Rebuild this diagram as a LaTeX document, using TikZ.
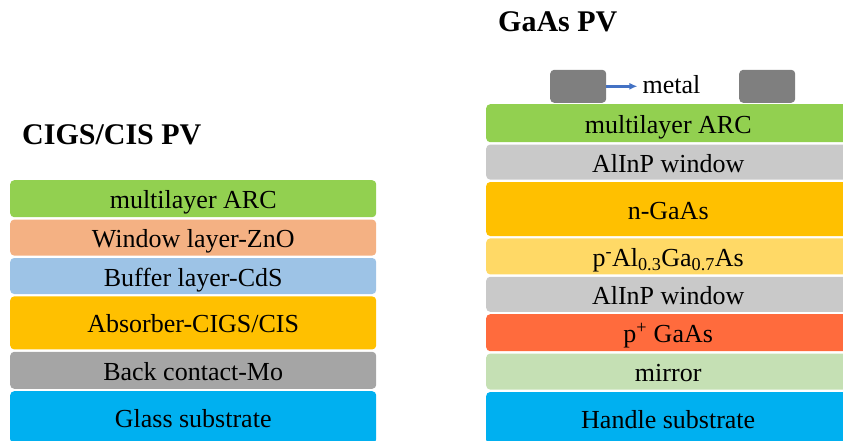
\documentclass[tikz,border=0pt]{standalone}
\usepackage{fontspec}
\setmainfont{Liberation Serif}
\usepackage{tikz}
\usetikzlibrary{positioning}
\usetikzlibrary{arrows,arrows.meta}
\definecolor{arcgreen}{HTML}{92D050}
\definecolor{znoorange}{HTML}{F4B183}
\definecolor{cdsblue}{HTML}{9DC3E6}
\definecolor{absyellow}{HTML}{FFC000}
\definecolor{mogray}{HTML}{A5A5A5}
\definecolor{subblue}{HTML}{00B0F0}
\definecolor{winggray}{HTML}{C9C9C9}
\definecolor{algayellow}{HTML}{FFD966}
\definecolor{pplusred}{HTML}{FF6B3D}
\definecolor{mirrorgreen}{HTML}{C5E0B4}
\definecolor{metalgray}{HTML}{7F7F7F}
\definecolor{arrowblue}{HTML}{4472C4}
\tikzset{
	x=1pt, y=-1pt, node distance = 2pt and 2pt,
	layer/.style = {rectangle, rounded corners=4pt, inner sep=0pt,
	 text height=23pt, text depth=3pt,
	 font=\fontsize{26}{30}\selectfont},
	cigs/.style = {layer, minimum width=366pt},
	gaas/.style = {layer, minimum width=364pt},
	pad/.style = {rectangle, rounded corners=4pt, fill=metalgray, inner sep=0pt,
	 minimum width=56pt, minimum height=33pt},
	pvtitle/.style = {inner sep=0pt, font=\fontsize{30}{36}\selectfont\bfseries},
}
\begin{document}
\begin{tikzpicture}
	\useasboundingbox (0,0) rectangle (843,441);
	\clip (0,0) rectangle (843,441);
	\node (ttl) [pvtitle, anchor=base west] at (22,145) {CIGS/CIS PV};
	\node (carc) [cigs, anchor=north west, fill=arcgreen, minimum height=37pt] at (10,180) {multilayer ARC};
	\node (czno) [cigs, below=of carc, fill=znoorange, minimum height=36pt] {Window layer-ZnO};
	\node (ccds) [cigs, below=of czno, fill=cdsblue, minimum height=36pt] {Buffer layer-CdS};
	\node (cabs) [cigs, below=of ccds, fill=absyellow, minimum height=53pt] {Absorber-CIGS/CIS};
	\node (cmo) [cigs, below=of cabs, fill=mogray, minimum height=37pt] {Back contact-Mo};
	\node (cgls) [cigs, below=of cmo, fill=subblue, minimum height=52pt] {Glass substrate};
	\node (ttr) [pvtitle, anchor=base west] at (498,32) {GaAs PV};
	\node (garc) [gaas, anchor=north west, fill=arcgreen, minimum height=38pt] at (486,104) {multilayer ARC};
	\node (gwin) [gaas, below=of garc, fill=winggray, minimum height=35pt] {AlInP window};
	\node (ngaas) [gaas, below=of gwin, fill=absyellow, minimum height=54pt] {n-GaAs};
	\node (palga) [gaas, below=of ngaas, fill=algayellow, minimum height=36pt] {p\textsuperscript{-}Al\textsubscript{0.3}Ga\textsubscript{0.7}As};
	\node (gwinb) [gaas, below=of palga, fill=winggray, minimum height=35pt] {AlInP window};
	\node (pgaas) [gaas, below=of gwinb, fill=pplusred, minimum height=37pt] {p\textsuperscript{+} GaAs};
	\node (mirr) [gaas, below=of pgaas, fill=mirrorgreen, minimum height=36pt] {mirror};
	\node (hsub) [gaas, below=of mirr, fill=subblue, minimum height=52pt] {Handle substrate};
	\node (padl) [pad, anchor=south west] at (550,103) {};
	\node (padr) [pad, anchor=south west] at (739,103) {};
	\node (metal) [right=36pt of padl, inner sep=0pt, yshift=2pt, font=\fontsize{26}{30}\selectfont] {metal};
	\draw [-{Latex[length=8pt,width=7pt]}, arrowblue, line width=2.5pt] (padl.east) -- ([xshift=-5pt]metal.west |- padl.east);
\end{tikzpicture}
\end{document}
